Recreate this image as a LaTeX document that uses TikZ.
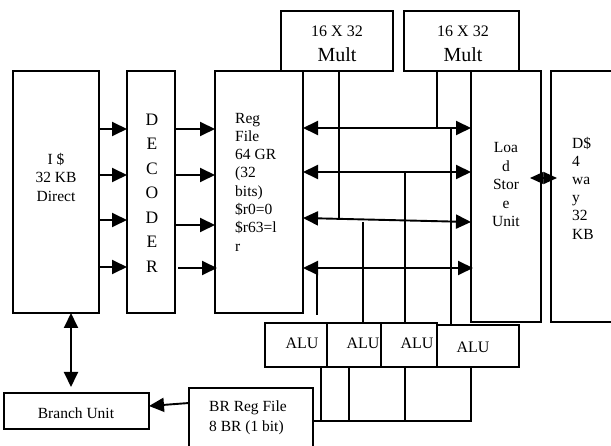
\documentclass[tikz,border=0pt]{standalone}
\usepackage{fontspec}
\setmainfont{Liberation Serif}
\usetikzlibrary{arrows.meta,calc}
\begin{document}
\begin{tikzpicture}[x=1pt,y=-1pt,
  box/.style={draw,line width=2pt,inner sep=0pt,outer sep=0pt},
  ghost/.style={inner sep=0pt,outer sep=0pt},
  wire/.style={line width=1.9pt},
  >={Triangle[length=15pt,width=14pt]},
  txt/.style={font=\fontsize{15.5}{18.5}\selectfont,inner sep=0pt},
  alutxt/.style={font=\fontsize{16}{18}\selectfont,inner sep=0pt}
]
\useasboundingbox (0,0) rectangle (611,446);

% boxes
\node[box,minimum width=86pt,minimum height=242pt] (icache) at (56,192) {};
\node[box,minimum width=48pt,minimum height=242pt] (dec) at (151,192) {};
\node[box,minimum width=88pt,minimum height=242pt] (reg) at (259,192) {};
\node[box,minimum width=112pt,minimum height=60pt] (mult1) at (337,41) {};
\node[box,minimum width=115pt,minimum height=60pt] (mult2) at (461.5,41) {};
\node[box,minimum width=70pt,minimum height=251pt] (lsu) at (506,196.5) {};
\node[ghost,minimum width=60pt,minimum height=251pt] (dcache) at (581,196.5) {};
\draw[line width=2pt] (dcache.north east) -- (dcache.north west) -- (dcache.south west) -- (dcache.south east);
\node[box,minimum width=145pt,minimum height=36pt] (branch) at (76.5,411) {};
\node[ghost,minimum width=124pt,minimum height=58pt] (brreg) at (251,417) {};
\draw[line width=2pt] (brreg.south west) -- (brreg.north west) -- (brreg.north east) -- (brreg.south east);
\node[box,minimum width=62pt,minimum height=44pt] (alu1) at (296,345) {};
\node[box,minimum width=54pt,minimum height=44pt] (alu2) at (354,345) {};
\node[box,minimum width=56pt,minimum height=44pt] (alu3) at (409,345) {};
\node[box,minimum width=82pt,minimum height=42pt] (alu4) at (478,346) {};

% texts
\node[txt,align=center] (t-ic) at (56,177) {I \$\\32 KB\\Direct};
\node[font=\fontsize{17.5}{24.5}\selectfont,inner sep=0pt,align=center] (t-dec) at (152,193) {D\\E\\C\\O\\D\\E\\R};
\node[txt,align=left,anchor=west,font=\fontsize{15.5}{18.3}\selectfont] (t-reg) at (235,182) {Reg\\File\\64 GR\\(32\\bits)\\\$r0=0\\\$r63=l\\r};
\node[font=\fontsize{16}{18}\selectfont,inner sep=0pt] (t-m1a) at (337,31) {16 X 32};
\node[font=\fontsize{20}{22}\selectfont,inner sep=0pt] (t-m1b) at (337,55) {Mult};
\node[font=\fontsize{16}{18}\selectfont,inner sep=0pt] (t-m2a) at (463,31) {16 X 32};
\node[font=\fontsize{20}{22}\selectfont,inner sep=0pt] (t-m2b) at (463,55) {Mult};
\node[txt,align=center] (t-lsu) at (506,185) {Loa\\d\\Stor\\e\\Unit};
\node[txt,align=left,anchor=west,font=\fontsize{15.5}{18.2}\selectfont] (t-dc) at (572,188) {D\$\\4\\wa\\y\\32\\KB};
\node[txt] (t-br) at (76,413) {Branch Unit};
\node[txt,align=left,anchor=west,font=\fontsize{15.5}{20}\selectfont] (t-brr) at (209,418) {BR Reg File\\8 BR (1 bit)};
\node[alutxt] (t-a1) at (302,343) {ALU};
\node[alutxt] (t-a2) at (363,343) {ALU};
\node[alutxt] (t-a3) at (417,343) {ALU};
\node[alutxt] (t-a4) at (473,347) {ALU};

% I$ -> decoder
\foreach \yy in {129,175,220,267} {
  \draw[wire,->] (icache.east |- 0,\yy) -- (dec.west |- 0,\yy);
}
% decoder -> reg file
\foreach \yy in {129,175,225} {
  \draw[wire,->] (dec.east |- 0,\yy) -- (reg.west |- 0,\yy);
}
\draw[wire,->] ([xshift=3pt]dec.east |- 0,268) -- ([xshift=2pt]reg.west |- 0,268);

% bus arrows
\coordinate (b1l) at (reg.east |- 0,128);
\coordinate (b1r) at (lsu.west |- 0,128);
\coordinate (b2l) at (reg.east |- 0,172);
\coordinate (b2r) at (lsu.west |- 0,172);
\coordinate (b3l) at (reg.east |- 0,218);
\coordinate (b3r) at (lsu.west |- 0,222);
\coordinate (b4l) at (reg.east |- 0,268);
\coordinate (b4r) at ([xshift=2pt]lsu.west |- 0,268);
\draw[wire,<->] (b1l) -- (b1r);
\draw[wire,<->] (b2l) -- (b2r);
\draw[wire,<->] (b3l) -- (b3r);
\draw[wire,<->] (b4l) -- (b4r);

% vertical bus lines
\draw[wire] (mult1.south -| 339,0) -- (339,218);
\draw[wire] (mult2.south -| 437,0) -- (437,128);
\draw[wire] (451,128) -- (alu4.north -| 451,0);
\draw[wire] (405,172) -- (alu3.north -| 405,0);
\draw[wire] (363,222) -- (alu2.north -| 363,0);
\coordinate (e317) at (317,315);
\draw[wire] (317,268) -- (e317);

% ALU outputs to BR reg file
\coordinate (bj) at (471,421);
\draw[wire] (brreg.east |- bj) -- (bj) -- (alu4.south -| bj);
\draw[wire] (321,421) -- (alu1.south -| 321,0);
\draw[wire] (349,421) -- (alu2.south -| 349,0);
\draw[wire] (405,421) -- (alu3.south -| 405,0);

% I$ <-> branch unit
\coordinate (bu-top) at (71,387);
\draw[wire,<->] (icache.south -| bu-top) -- (bu-top);
% BR reg -> branch
\draw[wire,->] (brreg.west |- 0,403) -- (branch.east |- 0,406);
% LSU <-> D$
\draw[line width=1.5pt,{Triangle[length=13.5pt,width=12pt]}-{Triangle[length=13.5pt,width=12pt]}] ([xshift=-11pt]lsu.east |- 0,178) -- ([xshift=6pt]dcache.west |- 0,178);
\end{tikzpicture}
\end{document}
